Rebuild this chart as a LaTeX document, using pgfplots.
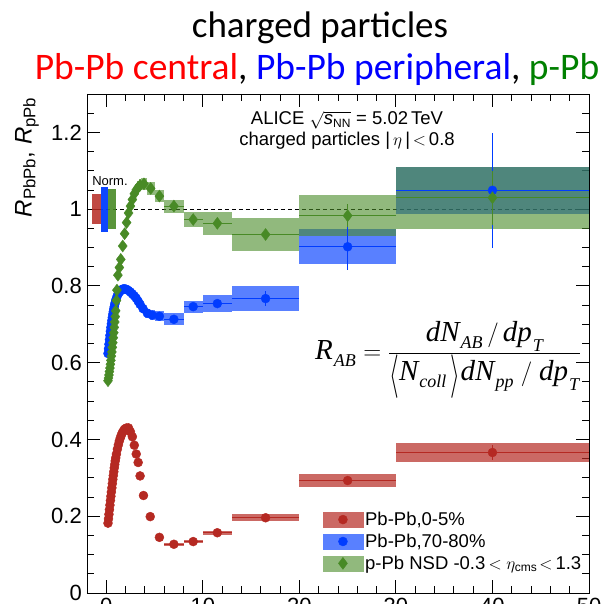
\documentclass[border=0pt]{standalone}
\usepackage{fontspec}
\setmainfont{Liberation Sans}
\newfontfamily\calibri{Carlito}
\newfontfamily\tms{Liberation Serif}
\usepackage{xcolor}
\usepackage{graphicx}
\usepackage{pgfplots}
\usepackage{pgfplotstable}
\pgfplotsset{compat=1.18}

\definecolor{cRed}{RGB}{181,41,34}
\definecolor{cBlue}{RGB}{0,60,255}
\definecolor{cGreen}{RGB}{72,138,38}
\definecolor{tRed}{RGB}{255,0,0}
\definecolor{tBlue}{RGB}{0,0,255}
\definecolor{tGreen}{RGB}{0,128,0}

\pgfplotsset{
  boxRed/.style={draw=none, fill=cRed, fill opacity=0.7},
  boxBlue/.style={draw=none, fill=cBlue, fill opacity=0.65},
  boxGreen/.style={draw=none, fill=cGreen, fill opacity=0.6},
}

% systematic box: style, pT low, pT high, value, half height
\newcommand\sysbox[5]{%
  \pgfmathsetmacro\sblo{#4-#5}\pgfmathsetmacro\sbhi{#4+#5}%
  \edef\sbtmp{\noexpand\addplot[#1, forget plot] coordinates {(#2,\sblo) (#3,\sblo) (#3,\sbhi) (#2,\sbhi)};}%
  \sbtmp}

% italic serif pieces of the R_AB definition
\newcommand\ri[1]{\mbox{\tms\itshape #1}}
\newcommand\rs[1]{\mbox{\kern1pt\raisebox{-3pt}{\tms\itshape\fontsize{18}{18}\selectfont #1}}}
\newcommand\tallbr[1]{\mbox{\raisebox{-7pt}{\scalebox{1}[1.75]{$#1$}}}}

% Pb-Pb 0-5%
\pgfplotstableread{
pt R xm xp ey
0.175 0.182 0 0 0
0.225 0.193 0 0 0
0.275 0.205 0 0 0
0.325 0.217 0 0 0
0.375 0.229 0 0 0
0.425 0.241 0 0 0
0.475 0.252 0 0 0
0.525 0.263 0 0 0
0.575 0.274 0 0 0
0.625 0.285 0 0 0
0.675 0.296 0 0 0
0.725 0.306 0 0 0
0.775 0.316 0 0 0
0.825 0.326 0 0 0
0.875 0.335 0 0 0
0.925 0.344 0 0 0
0.975 0.352 0 0 0
1.05 0.362 0 0 0
1.15 0.375 0 0 0
1.25 0.386 0 0 0
1.35 0.396 0 0 0
1.45 0.404 0 0 0
1.55 0.411 0 0 0
1.65 0.417 0 0 0
1.75 0.421 0 0 0
1.85 0.425 0 0 0
1.95 0.428 0 0 0
2.1 0.430 0 0 0
2.3 0.430 0 0 0
2.5 0.420 0 0 0
2.7 0.407 0 0 0
2.9 0.385 0 0 0
3.1 0.362 0 0 0
3.3 0.340 0 0 0
3.5 0.305 0 0 0
3.85 0.254 0 0 0
4.55 0.199 0 0 0
5.5 0.145 0 0 0
7 0.127 1 1 0.003
9 0.134 1 1 0.004
11.5 0.157 1.5 1.5 0.005
16.5 0.196 3.5 3.5 0.007
25 0.293 5 5 0.012
40 0.366 10 10 0.020
}\centraltab

% Pb-Pb 70-80%
\pgfplotstableread{
pt R xm xp ey
0.175 0.624 0 0 0
0.225 0.636 0 0 0
0.275 0.648 0 0 0
0.325 0.660 0 0 0
0.375 0.671 0 0 0
0.425 0.682 0 0 0
0.475 0.692 0 0 0
0.525 0.701 0 0 0
0.575 0.710 0 0 0
0.625 0.718 0 0 0
0.675 0.726 0 0 0
0.725 0.733 0 0 0
0.775 0.740 0 0 0
0.825 0.746 0 0 0
0.875 0.752 0 0 0
0.925 0.757 0 0 0
0.975 0.762 0 0 0
1.05 0.768 0 0 0
1.15 0.775 0 0 0
1.25 0.780 0 0 0
1.35 0.784 0 0 0
1.45 0.787 0 0 0
1.55 0.789 0 0 0
1.65 0.791 0 0 0
1.75 0.792 0 0 0
1.85 0.792 0 0 0
1.95 0.792 0 0 0
2.1 0.791 0 0 0
2.3 0.788 0 0 0
2.5 0.784 0 0 0
2.7 0.779 0 0 0
2.9 0.774 0 0 0
3.1 0.768 0 0 0
3.3 0.760 0 0 0
3.5 0.752 0 0 0
3.8 0.741 0 0 0
4.25 0.729 0 0 0
4.75 0.724 0 0 0
5.5 0.721 0 0 0
7 0.713 1 1 0.005
9 0.746 1 1 0.006
11.5 0.754 1.5 1.5 0.008
16.5 0.767 3.5 3.5 0.020
25 0.902 5 5 0.060
40 1.049 10 10 0.150
}\periphtab

% p-Pb NSD
\pgfplotstableread{
pt R xm xp ey
0.175 0.553 0 0 0
0.225 0.560 0 0 0
0.275 0.568 0 0 0
0.325 0.577 0 0 0
0.375 0.586 0 0 0
0.425 0.596 0 0 0
0.475 0.606 0 0 0
0.525 0.617 0 0 0
0.575 0.628 0 0 0
0.625 0.640 0 0 0
0.675 0.652 0 0 0
0.725 0.665 0 0 0
0.775 0.678 0 0 0
0.825 0.692 0 0 0
0.875 0.706 0 0 0
0.925 0.720 0 0 0
0.975 0.735 0 0 0
1.05 0.762 0 0 0
1.1 0.789 0 0 0
1.2 0.828 0 0 0
1.35 0.848 0 0 0
1.5 0.869 0 0 0
1.7 0.904 0 0 0
1.9 0.936 0 0 0
2.1 0.965 0 0 0
2.3 0.990 0 0 0
2.5 1.008 0 0 0
2.7 1.025 0 0 0
2.9 1.040 0 0 0
3.1 1.050 0 0 0
3.3 1.057 0 0 0
3.5 1.062 0 0 0
3.9 1.066 0 0 0
4.6 1.054 0.4 0.4 0.004
5.5 1.034 0.5 0.5 0.005
7 1.008 1 1 0.006
9 0.973 1 1 0.008
11.5 0.963 1.5 1.5 0.010
16.5 0.934 3.5 3.5 0.015
25 0.983 5 5 0.030
40 1.030 10 10 0.070
}\ppbtab

\begin{document}
\begin{tikzpicture}
\begin{axis}[
  at={(0pt,0pt)}, anchor=south west,
  scale only axis, width=502pt, height=499pt,
  xmin=-2, xmax=50, ymin=0, ymax=1.3,
  xtick={0,10,...,50},
  minor xtick={-2,2,4,6,8,12,14,16,18,22,24,26,28,32,34,36,38,42,44,46,48},
  ytick={0,0.2,0.4,0.6,0.8,1,1.2},
  minor ytick={0.05,0.1,0.15,0.25,0.3,0.35,0.45,0.5,0.55,0.65,0.7,0.75,0.85,0.9,0.95,1.05,1.1,1.15,1.25},
  tick align=inside,
  major tick length=13pt, minor tick length=7pt,
  tick style={black, line width=0.9pt},
  axis line style={line width=0.9pt},
  /pgf/number format/assume math mode=true,
  ticklabel style={font=\fontsize{22}{22}\selectfont},
  yticklabel style={inner sep=0pt, xshift=-5pt},
  xticklabel style={inner sep=0pt, yshift=-5pt},
  ylabel={\fontsize{24}{24}\selectfont\textit{R}\textsubscript{PbPb}, \textit{R}\textsubscript{pPb}},
  ylabel style={at={(axis description cs:-0.0956,0.994)}, anchor=south east, inner sep=0pt},
  legend style={at={(axis cs:22.4,0.052)}, anchor=south west, draw=none, fill=none,
    inner sep=0pt, font=\fontsize{18.5}{20}\selectfont, row sep=3pt,
    /tikz/every even column/.append style={column sep=2pt}},
  legend cell align=left,
  clip=true,
]
% normalisation uncertainties
\addplot[black, dashed, line width=0.7pt, dash pattern=on 4pt off 3pt, forget plot] coordinates {(-1.5,1) (50,1)};
\sysbox{draw=none, fill=cRed, fill opacity=0.85}{-1.5}{-0.6}{1}{0.039}
\sysbox{draw=none, fill=cBlue, fill opacity=0.95}{-0.6}{0.2}{1}{0.059}
\sysbox{draw=none, fill=cGreen, fill opacity=0.9}{0.2}{1.0}{1}{0.053}

% systematic uncertainties, Pb-Pb 0-5%
\sysbox{boxRed}{6}{8}{0.127}{0.004}
\sysbox{boxRed}{8}{10}{0.134}{0.004}
\sysbox{boxRed}{10}{13}{0.157}{0.005}
\sysbox{boxRed}{13}{20}{0.196}{0.009}
\sysbox{boxRed}{20}{30}{0.293}{0.018}
\sysbox{boxRed}{30}{50}{0.366}{0.026}

% systematic uncertainties, Pb-Pb 70-80%
\sysbox{boxBlue}{3.0}{3.2}{0.768}{0.012}
\sysbox{boxBlue}{3.2}{3.4}{0.760}{0.012}
\sysbox{boxBlue}{3.4}{3.6}{0.752}{0.012}
\sysbox{boxBlue}{3.6}{4.0}{0.741}{0.012}
\sysbox{boxBlue}{4.0}{4.5}{0.729}{0.012}
\sysbox{boxBlue}{4.5}{5.0}{0.724}{0.012}
\sysbox{boxBlue}{5}{6}{0.721}{0.013}
\sysbox{boxBlue}{6}{8}{0.713}{0.016}
\sysbox{boxBlue}{8}{10}{0.746}{0.016}
\sysbox{boxBlue}{10}{13}{0.754}{0.022}
\sysbox{boxBlue}{13}{20}{0.767}{0.032}
\sysbox{boxBlue}{20}{30}{0.902}{0.046}
\sysbox{boxBlue}{30}{50}{1.049}{0.062}

% systematic uncertainties, p-Pb
\sysbox{boxGreen}{3.0}{3.2}{1.050}{0.016}
\sysbox{boxGreen}{3.2}{3.4}{1.057}{0.016}
\sysbox{boxGreen}{3.4}{3.6}{1.062}{0.016}
\sysbox{boxGreen}{3.6}{4.2}{1.066}{0.016}
\sysbox{boxGreen}{4.2}{5.0}{1.054}{0.016}
\sysbox{boxGreen}{5}{6}{1.034}{0.016}
\sysbox{boxGreen}{6}{8}{1.008}{0.017}
\sysbox{boxGreen}{8}{10}{0.973}{0.020}
\sysbox{boxGreen}{10}{13}{0.963}{0.030}
\sysbox{boxGreen}{13}{20}{0.934}{0.042}
\sysbox{boxGreen}{20}{30}{0.983}{0.053}
\sysbox{boxGreen}{30}{50}{1.030}{0.081}

% data points with bin widths and statistical errors
\addplot[only marks, mark=*, mark size=4.5pt, color=cRed, mark options={fill=cRed, draw=cRed},
  legend image code/.code={\fill[cRed!70!white] (0pt,-7.5pt) rectangle (40pt,7.5pt);
    \draw[only marks] plot coordinates {(20pt,0pt)};},
  error bars/.cd, x dir=both, x explicit, y dir=both, y explicit, error mark=none,
  error bar style={line width=0.8pt, cRed}]
  table[x=pt, y=R, x error minus=xm, x error plus=xp, y error=ey] {\centraltab};
\addlegendentry{Pb-Pb,0-5\%}
\addplot[only marks, mark=*, mark size=4.5pt, color=cBlue, mark options={fill=cBlue, draw=cBlue},
  legend image code/.code={\fill[cBlue!65!white] (0pt,-7.5pt) rectangle (40pt,7.5pt);
    \draw[only marks] plot coordinates {(20pt,0pt)};},
  error bars/.cd, x dir=both, x explicit, y dir=both, y explicit, error mark=none,
  error bar style={line width=0.8pt, cBlue}]
  table[x=pt, y=R, x error minus=xm, x error plus=xp, y error=ey] {\periphtab};
\addlegendentry{Pb-Pb,70-80\%}
\addplot[only marks, mark=diamond*, mark size=6pt, color=cGreen, mark options={fill=cGreen, draw=cGreen},
  legend image code/.code={\fill[cGreen!60!white] (0pt,-7.5pt) rectangle (40pt,7.5pt);
    \draw[only marks] plot coordinates {(20pt,0pt)};},
  error bars/.cd, x dir=both, x explicit, y dir=both, y explicit, error mark=none,
  error bar style={line width=0.8pt, cGreen}]
  table[x=pt, y=R, x error minus=xm, x error plus=xp, y error=ey] {\ppbtab};
\addlegendentry{p-Pb NSD -0.3\,$<\eta_{\mbox{\fontsize{12}{12}\selectfont cms}}\!<$\,1.3}
\end{axis}

% titles and annotations
\node[anchor=base, font=\calibri\fontsize{37}{40}\selectfont] at (233pt,555pt) {charged particles};
\node[anchor=base, font=\calibri\fontsize{37.5}{40}\selectfont] at (230pt,513pt)
  {\textcolor{tRed}{Pb-Pb central}, \textcolor{tBlue}{Pb-Pb peripheral}, \textcolor{tGreen}{p-Pb}};
\node[anchor=base, font=\fontsize{18.5}{20}\selectfont, inner sep=0pt] at (260pt,468pt)
  {ALICE $\sqrt{\mbox{\textit{s}}_{\mbox{\fontsize{12}{12}\selectfont NN}}}$ = 5.02\,TeV};
\node[anchor=base, font=\fontsize{18.5}{20}\selectfont, inner sep=0pt] at (260pt,447pt)
  {charged particles |\,$\eta$\,|$\,<\,$0.8};
\node[anchor=base, font=\fontsize{13}{14}\selectfont, inner sep=0pt] at (23pt,407pt) {Norm.};
\node[anchor=west, font=\fontsize{29}{32}\selectfont, inner sep=0pt] at (228pt,233pt)
  {$\ri{R}_{\rs{AB}} = {\displaystyle\frac{\ri{dN}_{\rs{AB}}\,/\,\ri{dp}_{\rs{T}}}
   {\tallbr{\langle}\ri{N}_{\rs{coll}}\,\tallbr{\rangle}\ri{dN}_{\rs{pp}}\;/\;\ri{dp}_{\rs{T}}}}$};

\pgfresetboundingbox
\useasboundingbox (-87pt,-11pt) rectangle (517pt,593pt);
\end{tikzpicture}
\end{document}
